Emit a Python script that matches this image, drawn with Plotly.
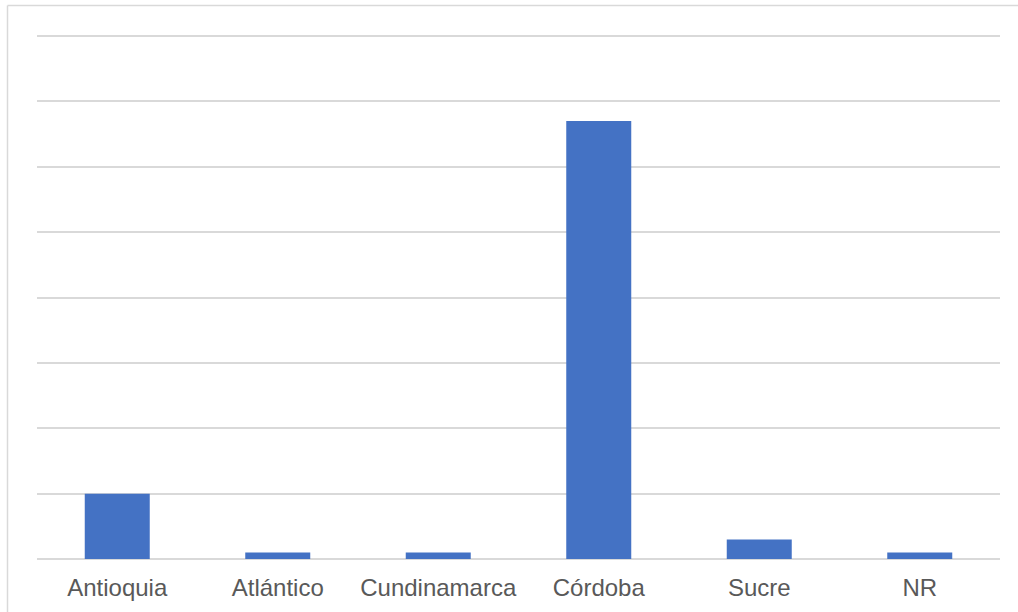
import plotly.graph_objects as go

categories = ["Antioquia", "Atlántico", "Cundinamarca", "Córdoba", "Sucre", "NR"]
values = [10, 1, 1, 67, 3, 1]
y_ticks = [0, 10, 20, 30, 40, 50, 60, 70, 80]

W, H = 1018, 612
L, R, T, B = 37, 18, 23, 53
pw, ph = W - L - R, H - T - B

fig = go.Figure(go.Bar(x=categories, y=values, marker_color="#4472C4", marker_line_width=0))

def px_to_paper_x(px):
    return (px - L) / pw

def px_to_paper_y(py):
    return (H - B - py) / ph

bx, by = 7.5, 5.5
fig.add_shape(type="line", xref="paper", yref="paper",
              x0=px_to_paper_x(bx), x1=px_to_paper_x(bx),
              y0=px_to_paper_y(H + 5), y1=px_to_paper_y(by),
              line=dict(color="#d9d9d9", width=1.5))
fig.add_shape(type="line", xref="paper", yref="paper",
              x0=px_to_paper_x(bx), x1=px_to_paper_x(W + 5),
              y0=px_to_paper_y(by), y1=px_to_paper_y(by),
              line=dict(color="#d9d9d9", width=1.5))

fig.update_layout(
    width=W, height=H,
    margin=dict(l=L, r=R, t=T, b=B, pad=0),
    paper_bgcolor="white", plot_bgcolor="white",
    bargap=0.595,
    showlegend=False,
    font=dict(family="Liberation Sans, Arial, sans-serif", color="#595959"),
)
fig.update_xaxes(showgrid=False, showline=False, ticks="",
                 tickfont=dict(size=24, color="#595959"), ticklabelstandoff=12)
fig.update_yaxes(range=[0, 82], tickvals=y_ticks, showticklabels=False,
                 showgrid=True, gridcolor="#d9d9d9", gridwidth=1.5,
                 zeroline=True, zerolinecolor="#d9d9d9", zerolinewidth=1.5,
                 showline=False)

fig.write_html("out.html", config={"displayModeBar": False},
               post_script="document.body.style.margin='0';document.body.style.overflow='hidden';")
